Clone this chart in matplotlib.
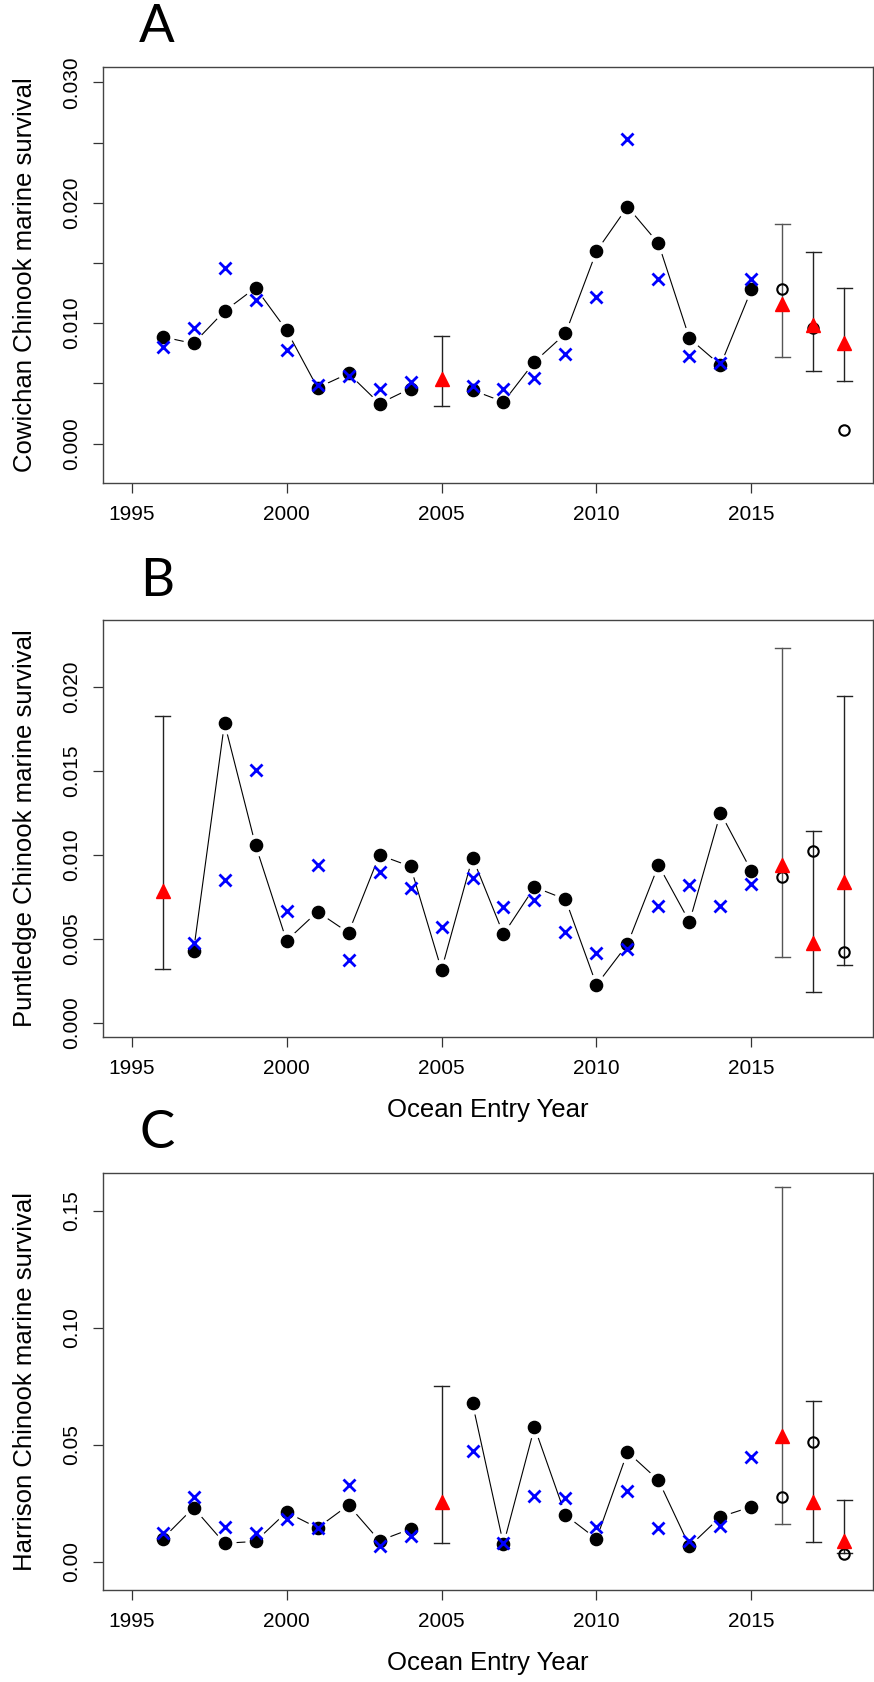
import numpy as np
import matplotlib
matplotlib.use("Agg")
import matplotlib.pyplot as plt

nan = np.nan

years = list(range(1996, 2016))
proj_years = [2016, 2017, 2018]

# ---- Cowichan (A)
cow_obs = [0.00886, 0.00831, 0.0110, 0.01294, 0.00942, 0.00463, 0.00582, 0.00332, 0.00457, nan,
           0.00443, 0.00346, 0.00679, 0.00914, 0.01598, 0.01967, 0.01662, 0.00873, 0.00651, 0.0128]
cow_fit = [0.00803, 0.00956, 0.01454, 0.01191, 0.00776, 0.0049, 0.0056, 0.00457, 0.00512, nan,
           0.00476, 0.00457, 0.00546, 0.00742, 0.01219, 0.02526, 0.01363, 0.00729, 0.00665, 0.01363]
cow_open = [0.0128, 0.00956, 0.0011]
cow_pred_years = [2005, 2016, 2017, 2018]
cow_pred = [0.0054, 0.01155, 0.00983, 0.00831]
cow_lo = [0.00313, 0.0072, 0.00604, 0.00521]
cow_hi = [0.00895, 0.01823, 0.01593, 0.01288]

# ---- Puntledge (B)
pun_obs = [nan, 0.00425, 0.01785, 0.01058, 0.00489, 0.00661, 0.00536, 0.00999, 0.00931, 0.00315,
           0.00984, 0.00527, 0.00808, 0.00735, 0.00225, 0.00468, 0.00939, 0.00601, 0.0125, 0.00903]
pun_fit = [nan, 0.00474, 0.0085, 0.01505, 0.00665, 0.00942, 0.00374, 0.00899, 0.00803, 0.0057,
           0.00861, 0.00687, 0.00729, 0.00538, 0.00417, 0.00442, 0.00697, 0.0082, 0.00697, 0.00825]
pun_open = [0.00871, 0.0102, 0.00421]
pun_pred_years = [1996, 2016, 2017, 2018]
pun_pred = [0.00782, 0.00942, 0.00474, 0.0084]
pun_lo = [0.00319, 0.00389, 0.00183, 0.00346]
pun_hi = [0.01828, 0.02232, 0.01143, 0.01947]

# ---- Harrison (C)
har_obs = [0.00987, 0.0232, 0.008, 0.00877, 0.0213, 0.01456, 0.0243, 0.00908, 0.0141, nan,
           0.0678, 0.00752, 0.0576, 0.02, 0.00987, 0.047, 0.0349, 0.00673, 0.0193, 0.0236]
har_fit = [0.0122, 0.0279, 0.01488, 0.0122, 0.01848, 0.01456, 0.033, 0.00673, 0.01112, nan,
           0.0474, 0.0083, 0.0283, 0.0274, 0.01488, 0.0302, 0.01456, 0.00908, 0.01535, 0.0448]
har_open = [0.0276, 0.0514, 0.00329]
har_pred_years = [2005, 2016, 2017, 2018]
har_pred = [0.0255, 0.054, 0.0255, 0.00908]
har_lo = [0.008, 0.01644, 0.00861, 0.0040]
har_hi = [0.0753, 0.1602, 0.0686, 0.0263]


W, H = 874, 1682
fig = plt.figure(figsize=(W / 100, H / 100), dpi=100)
plt.rcParams['font.family'] = ['Liberation Sans', 'DejaVu Sans']


def fx(px):
    return px / W


def fy(px):
    return 1 - px / H


def panel(top, bottom, obs, fit, opn, pyears, pred, lo, hi, ylim, ticks, labels, ylabel, letter, xlabel):
    ax = fig.add_axes([fx(103), fy(bottom), fx(873) - fx(103), fy(top) - fy(bottom)])
    # fitted line with small gaps around points, like R type="b"
    ax.plot(years, obs, color='black', lw=0.8, zorder=1)
    ax.plot(years, obs, 'o', ms=15, color='white', mec='white', zorder=2)
    ax.plot(years, obs, 'o', ms=8.8, color='black', zorder=3)
    ax.plot(years, fit, 'x', ms=9, mew=2, color='#0000ff', zorder=4)
    ax.plot(proj_years, opn, 'o', ms=7.5, mfc='none', mec='black', mew=1.5, zorder=3)
    for x, lw_, hw_, c in zip(pyears, lo, hi, ['#555555' if yy in (2016,) else '#222222' for yy in pyears]):
        ax.plot([x, x], [lw_, hw_], color=c, lw=1, zorder=1)
        ax.plot([x - 0.25, x + 0.25], [lw_, lw_], color=c, lw=1, zorder=1)
        ax.plot([x - 0.25, x + 0.25], [hw_, hw_], color=c, lw=1, zorder=1)
    ax.plot(pyears, pred, '^', ms=9.5, color='#ff0000', zorder=5)

    ax.set_xlim(1994.08, 2018.92)
    ax.set_ylim(*ylim)
    ax.set_xticks([1995, 2000, 2005, 2010, 2015])
    ax.set_yticks(ticks)
    ax.set_yticklabels(labels, rotation=90, va='center')
    ax.tick_params(axis='both', direction='out', length=7, width=0.9, color='#333333', labelsize=15)
    ax.tick_params(axis='x', pad=9)
    ax.tick_params(axis='y', pad=9)
    for s in ax.spines.values():
        s.set_color('#444444')
        s.set_linewidth(1)

    fig.text(fx(25), fy((top + bottom) / 2), ylabel, rotation=90, ha='center', va='center', fontsize=18.5)
    fig.text(fx(157), fy(top - 39), letter, ha='center', va='center', fontsize=38, family=['Lato', 'DejaVu Sans'])
    if xlabel:
        fig.text(fx(488), fy(bottom + 73), 'Ocean Entry Year', ha='center', va='center', fontsize=18.5)
    return ax


panel(67, 483, cow_obs, cow_fit, cow_open, cow_pred_years, cow_pred, cow_lo, cow_hi,
      (-0.00328, 0.03128), [0, 0.005, 0.010, 0.015, 0.020, 0.025, 0.030],
      ['0.000', '', '0.010', '', '0.020', '', '0.030'],
      'Cowichan Chinook marine survival', 'A', False)

panel(620, 1037, pun_obs, pun_fit, pun_open, pun_pred_years, pun_pred, pun_lo, pun_hi,
      (-0.00085, 0.02399), [0, 0.005, 0.010, 0.015, 0.020],
      ['0.000', '0.005', '0.010', '0.015', '0.020'],
      'Puntledge Chinook marine survival', 'B', True)

panel(1173, 1590, har_obs, har_fit, har_open, har_pred_years, har_pred, har_lo, har_hi,
      (-0.01197, 0.1662), [0, 0.05, 0.10, 0.15],
      ['0.00', '0.05', '0.10', '0.15'],
      'Harrison Chinook marine survival', 'C', True)

fig.savefig('out.png', dpi=100)
